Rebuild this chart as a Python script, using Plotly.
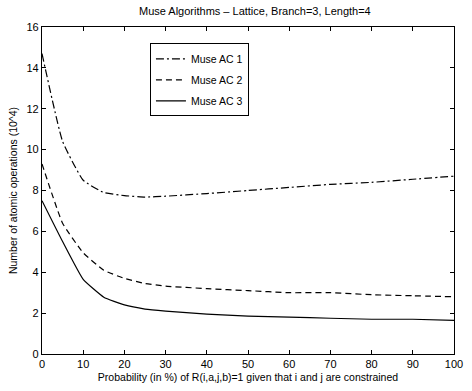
import plotly.graph_objects as go

# Constraint probability (%) and operation counts (x10^4) for each Muse variant
prob = [0, 5, 10, 15, 20, 25, 30, 40, 50, 60, 70, 80, 90, 100]
muse_ac1 = [14.7, 10.4, 8.5, 7.9, 7.75, 7.68, 7.72, 7.85, 8.0, 8.15, 8.3, 8.4, 8.55, 8.7]
muse_ac2 = [9.3, 6.4, 4.95, 4.1, 3.7, 3.45, 3.32, 3.2, 3.1, 3.0, 3.0, 2.9, 2.85, 2.8]
muse_ac3 = [7.5, 5.5, 3.65, 2.78, 2.4, 2.2, 2.1, 1.95, 1.85, 1.8, 1.75, 1.7, 1.7, 1.65]

x_ticks = list(range(0, 101, 10))
y_ticks = list(range(0, 17, 2))

font_family = "Liberation Sans, Arial, Helvetica, sans-serif"

fig = go.Figure()
for name, ys, dash in [
    ("Muse AC 1", muse_ac1, "8px,3px,2px,3px"),
    ("Muse AC 2", muse_ac2, "6px,4px"),
    ("Muse AC 3", muse_ac3, "solid"),
]:
    fig.add_trace(go.Scatter(
        x=prob, y=ys, mode="lines", name=name, legendgroup=name,
        line=dict(color="black", width=1.2, dash=dash, shape="spline", smoothing=0.4),
    ))

axis_common = dict(
    showgrid=False, zeroline=False, showline=True, linecolor="black", linewidth=1.2,
    mirror="ticks", ticks="inside", ticklen=4, tickcolor="black",
    tickfont=dict(size=11, color="black", family=font_family),
)

fig.update_layout(
    width=472, height=391,
    margin=dict(l=42, r=9, t=27, b=29),
    paper_bgcolor="white", plot_bgcolor="white",
    font=dict(family=font_family, color="black"),
    title=dict(text="Muse Algorithms – Lattice, Branch=3, Length=4",
               x=0.54, xanchor="center", y=0.972, yanchor="middle",
               font=dict(size=11, color="black")),
    xaxis=dict(range=[0, 100], tickvals=x_ticks,
               title=dict(text="Probability (in %) of R(i,a,j,b)=1 given that i and j are constrained",
                          font=dict(size=10.5), standoff=4),
               **axis_common),
    yaxis=dict(range=[0, 16], tickvals=y_ticks,
               title=dict(text="Number of atomic operations (10^4)",
                          font=dict(size=10.5), standoff=6),
               **axis_common),
    legend=dict(x=0.262, y=0.95, xanchor="left", yanchor="top",
                bgcolor="white", bordercolor="black", borderwidth=1,
                font=dict(size=10.5, color="black"), itemwidth=30,
                tracegroupgap=2),
    showlegend=True,
)

fig.write_html("out.html")
